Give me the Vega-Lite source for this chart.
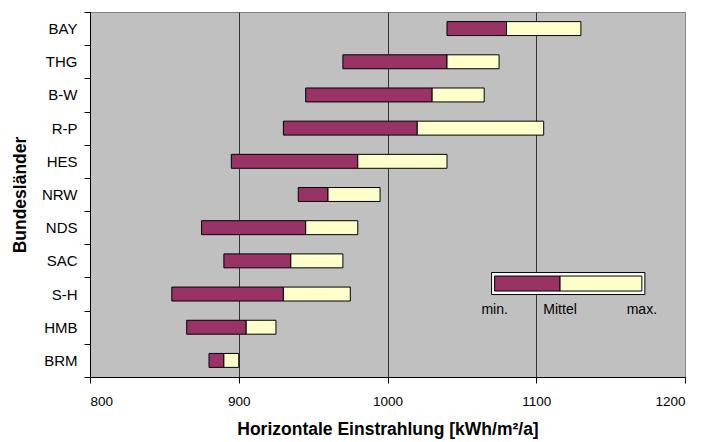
{
  "$schema": "https://vega.github.io/schema/vega-lite/v6.json",
  "width": 595,
  "height": 365,
  "autosize": {"type": "none"},
  "padding": {"left": 90, "top": 12, "right": 18, "bottom": 65},
  "background": "white",
  "config": {
    "font": "Liberation Sans",
    "view": {"fill": "#C0C0C0", "stroke": "#808080", "strokeWidth": 1}
  },
  "datasets": {
    "laender": [
      {"land": "BAY", "min": 1040, "mittel": 1080, "max": 1130},
      {"land": "THG", "min": 970, "mittel": 1040, "max": 1075},
      {"land": "B-W", "min": 945, "mittel": 1030, "max": 1065},
      {"land": "R-P", "min": 930, "mittel": 1020, "max": 1105},
      {"land": "HES", "min": 895, "mittel": 980, "max": 1040},
      {"land": "NRW", "min": 940, "mittel": 960, "max": 995},
      {"land": "NDS", "min": 875, "mittel": 945, "max": 980},
      {"land": "SAC", "min": 890, "mittel": 935, "max": 970},
      {"land": "S-H", "min": 855, "mittel": 930, "max": 975},
      {"land": "HMB", "min": 865, "mittel": 905, "max": 925},
      {"land": "BRM", "min": 880, "mittel": 890, "max": 900}
    ],
    "legende": [
      {"land": "S-H", "min": 1072, "mittel": 1116, "max": 1171}
    ]
  },
  "encoding": {
    "y": {
      "field": "land",
      "type": "nominal",
      "sort": ["BAY", "THG", "B-W", "R-P", "HES", "NRW", "NDS", "SAC", "S-H", "HMB", "BRM"],
      "scale": {"paddingInner": 0, "paddingOuter": 0},
      "axis": {
        "title": "Bundesländer",
        "titleFont": "Liberation Sans",
        "titleFontSize": 17.5,
        "titleFontWeight": "bold",
        "titleColor": "black",
        "titleX": -70,
        "titleY": 182.5,
        "titleAngle": -90,
        "titleAlign": "center",
        "titleBaseline": "middle",
        "labelFont": "Liberation Sans",
        "labelFontSize": 15,
        "labelColor": "black",
        "labelPadding": 7,
        "tickBand": "extent",
        "tickSize": 6,
        "tickColor": "black",
        "domainColor": "black",
        "grid": false
      }
    }
  },
  "layer": [
    {
      "data": {"name": "laender"},
      "mark": {"type": "bar", "color": "#993366", "stroke": "black", "strokeWidth": 1, "height": {"band": 0.42}},
      "encoding": {
        "x": {
          "field": "min",
          "type": "quantitative",
          "scale": {"domain": [800, 1200], "nice": false, "zero": false},
          "axis": {
            "values": [800, 900, 1000, 1100, 1200],
            "format": "d",
            "title": "Horizontale Einstrahlung [kWh/m²/a]",
            "titleFont": "Liberation Sans",
            "titleFontSize": 17.5,
            "titleFontWeight": "bold",
            "titleColor": "black",
            "titlePadding": 13,
            "labelFont": "Liberation Sans",
            "labelFontSize": 13.5,
            "labelColor": "black",
            "labelPadding": 11,
            "tickSize": 6,
            "tickColor": "black",
            "domainColor": "black",
            "grid": true,
            "gridColor": {"condition": {"test": "datum.value == 1200", "value": "#808080"}, "value": "#333333"},
            "gridOpacity": 1
          }
        },
        "x2": {"field": "mittel"}
      }
    },
    {
      "data": {"name": "laender"},
      "mark": {"type": "bar", "color": "#FFFFCC", "stroke": "black", "strokeWidth": 1, "height": {"band": 0.42}},
      "encoding": {
        "x": {"field": "mittel", "type": "quantitative"},
        "x2": {"field": "max"}
      }
    },
    {
      "data": {"name": "legende"},
      "mark": {"type": "bar", "color": "white", "stroke": "black", "strokeWidth": 1, "height": 22, "yOffset": -10.5, "xOffset": -3, "x2Offset": 3},
      "encoding": {
        "x": {"field": "min", "type": "quantitative"},
        "x2": {"field": "max"}
      }
    },
    {
      "data": {"name": "legende"},
      "mark": {"type": "bar", "color": "#993366", "stroke": "black", "strokeWidth": 1, "height": 15, "yOffset": -10.5},
      "encoding": {
        "x": {"field": "min", "type": "quantitative"},
        "x2": {"field": "mittel"}
      }
    },
    {
      "data": {"name": "legende"},
      "mark": {"type": "bar", "color": "#FFFFCC", "stroke": "black", "strokeWidth": 1, "height": 15, "yOffset": -10.5},
      "encoding": {
        "x": {"field": "mittel", "type": "quantitative"},
        "x2": {"field": "max"}
      }
    },
    {
      "data": {"name": "legende"},
      "mark": {"type": "text", "text": "min.", "font": "Liberation Sans", "fontSize": 14, "color": "black", "align": "center", "baseline": "middle", "yOffset": 16},
      "encoding": {"x": {"field": "min", "type": "quantitative"}}
    },
    {
      "data": {"name": "legende"},
      "mark": {"type": "text", "text": "Mittel", "font": "Liberation Sans", "fontSize": 14, "color": "black", "align": "center", "baseline": "middle", "yOffset": 16},
      "encoding": {"x": {"field": "mittel", "type": "quantitative"}}
    },
    {
      "data": {"name": "legende"},
      "mark": {"type": "text", "text": "max.", "font": "Liberation Sans", "fontSize": 14, "color": "black", "align": "center", "baseline": "middle", "yOffset": 16},
      "encoding": {"x": {"field": "max", "type": "quantitative"}}
    }
  ]
}
